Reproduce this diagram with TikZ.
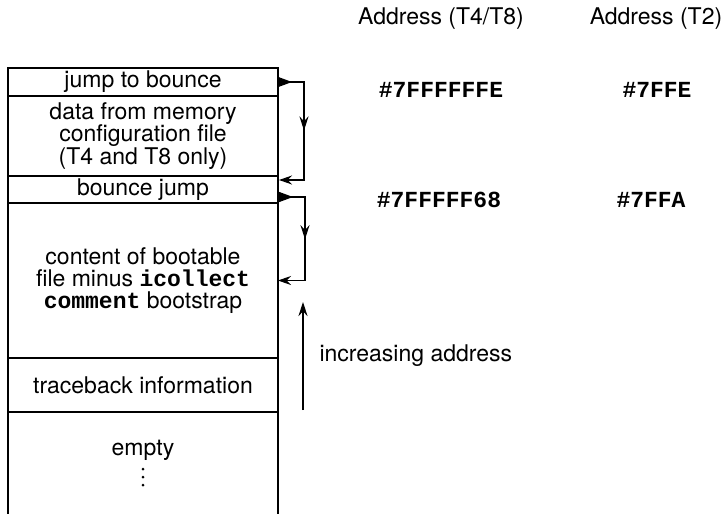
\documentclass[tikz,border=0pt]{standalone}
\usepackage{fontspec}
\setmainfont{TeX Gyre Heros}
\setmonofont{Liberation Mono}
\usetikzlibrary{arrows.meta,positioning,decorations.markings}

\tikzset{
  every node/.style={font=\fontsize{23pt}{21.7pt}\selectfont},
  memrow/.style={draw, line width=1.3pt, minimum width=270pt, inner sep=0pt, outer sep=0pt, align=center},
  addr/.style={font=\fontsize{23pt}{24pt}\selectfont\ttfamily\bfseries},
  bouncearrow/.style={line width=1.1pt, {Triangle[reversed,length=14pt,width=10pt]}-{Stealth[length=13pt,width=9pt]},
    postaction=decorate,
    decoration={markings, mark=at position 0.5 with {\arrow{Stealth[length=14pt,width=9pt]}}}}
}

\begin{document}
\begin{tikzpicture}[x=1pt,y=-1pt]
  \useasboundingbox (0,0) rectangle (726,515);

  % memory rows
  \node[memrow, anchor=north west, minimum height=28pt] (jmp) at (8,68) {jump to bounce};
  \node[memrow, minimum height=80pt, below=0pt of jmp] (cfg) {data from memory\\configuration file\\(T4 and T8 only)};
  \node[memrow, minimum height=27pt, below=0pt of cfg] (bnc) {bounce jump};
  \node[memrow, minimum height=155pt, below=0pt of bnc] (body)
    {content of bootable\\file minus \texttt{\textbf{icollect}}\\\texttt{\textbf{comment}} bootstrap};
  \node[memrow, minimum height=54pt, below=0pt of body] (trace) {traceback information};
  \node[memrow, draw=none, minimum height=102pt, below=0pt of trace] (empty) {};
  \draw[line width=1.3pt] (empty.north west) -- (empty.south west);
  \draw[line width=1.3pt] (empty.north east) -- (empty.south east);
  \node (emptyl) at (143,450) {empty};
  \foreach \y in {469,477,485}
    \fill (143,\y) circle (1.5pt);

  % jumps
  \coordinate (cfgend) at (279,180);
  \coordinate (bncstart) at (279,197);
  \draw[bouncearrow] (jmp.east) -- ++(26,0) |- (cfgend);
  \draw[bouncearrow] (bncstart) -- ++(26,0) |- (body.east);

  % direction
  \coordinate (incbot) at (303,410);
  \coordinate (inctop) at (303,302);
  \draw[line width=1.1pt, -{Stealth[length=14pt,width=9pt]}] (incbot) -- (inctop);
  \node[anchor=west] (incl) at (316,356) {increasing address};

  % addresses
  \node (hdrA) at (441,19) {Address (T4/T8)};
  \node (hdrB) at (656,19) {Address (T2)};
  \node[addr] (adrA1) at (441,90) {\#7FFFFFFE};
  \node[addr] (adrB1) at (657,90) {\#7FFE};
  \node[addr] (adrA2) at (439,200) {\#7FFFFF68};
  \node[addr] (adrB2) at (651,200) {\#7FFA};
\end{tikzpicture}
\end{document}
